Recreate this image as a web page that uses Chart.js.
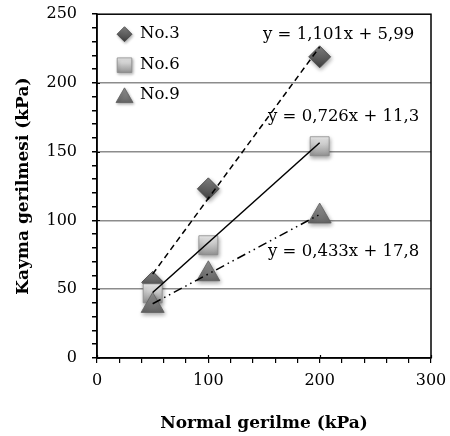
<!DOCTYPE html>
<html><head><meta charset="utf-8">
<script src="https://cdn.jsdelivr.net/npm/chart.js@4/dist/chart.umd.min.js"></script>
<style>html,body{margin:0;padding:0;background:#fff;}#wrap{width:450px;height:436px;}</style>
</head><body><div id="wrap"><canvas id="c" width="450" height="436"></canvas></div>
<script>
const seriesNames = ['No.3', 'No.6', 'No.9'];
const normalStress = [50, 100, 200];
const shear3 = [55, 123, 219];
const shear6 = [47, 82, 154];
const shear9 = [38, 61, 103];
const trendSlopes = [1.101, 0.726, 0.433];
const trendIntercepts = [5.99, 11.3, 17.8];
const equationLabels = ['y = 1,101x + 5,99', 'y = 0,726x + 11,3', 'y = 0,433x + 17,8'];
const xTickLabels = [0, 100, 200, 300];
const yTickLabels = [0, 50, 100, 150, 200, 250];
const xTitle = 'Normal gerilme (kPa)';
const yTitle = 'Kayma gerilmesi (kPa)';

const FONT = "'DejaVu Serif', serif";
const shearSeries = [shear3, shear6, shear9];
const markerStyles = [
  {style: 'rectRot', radius: 11, top: '#7c7c7c', bottom: '#444444', border: '#444444', lr: 7.5},
  {style: 'rect', radius: 13.4, top: '#f6f6f6', bottom: '#8e8e8e', border: '#8a8a8a', lr: 10.3},
  {style: 'triangle', radius: 13.3, top: '#8e8e8e', bottom: '#5c5c5c', border: '#5e5e5e', lr: 9.8}
];
const lineDashes = [[6, 4], [], [9, 4, 1.5, 4, 1.5, 4]];

function grad(ctx2d, y, r, m) {
  if (!isFinite(y)) return m.bottom;
  const g = ctx2d.createLinearGradient(0, y - r, 0, y + r);
  g.addColorStop(0, m.top);
  g.addColorStop(1, m.bottom);
  return g;
}

const datasets = [];
shearSeries.forEach((s, i) => {
  const xs = [Math.min(...normalStress), Math.max(...normalStress)];
  datasets.push({
    label: 'trend' + i,
    isTrend: true,
    type: 'line',
    order: 0,
    data: xs.map(x => ({x: x, y: trendSlopes[i] * x + trendIntercepts[i]})),
    borderColor: '#000',
    borderWidth: 1.5,
    borderDash: lineDashes[i],
    pointRadius: 0,
    fill: false,
    tension: 0
  });
});
shearSeries.forEach((s, i) => {
  const m = markerStyles[i];
  datasets.push({
    label: seriesNames[i],
    type: 'scatter',
    order: 3 - i,
    data: normalStress.map((x, j) => ({x: x, y: s[j]})),
    pointStyle: m.style,
    pointRadius: m.radius,
    pointHoverRadius: m.radius,
    pointBorderWidth: 0.8,
    pointBorderColor: m.border,
    pointBackgroundColor: (c) => {
      const ch = c.chart;
      if (!ch.scales || !ch.scales.y || !c.parsed) return m.bottom;
      const py = ch.scales.y.getPixelForValue(c.parsed.y);
      return grad(ch.ctx, py, m.radius * 0.8, m);
    },
    showLine: false
  });
});

const shadowPlugin = {
  id: 'shadow',
  beforeDatasetDraw(chart, args) {
    const ds = chart.data.datasets[args.index];
    if (ds.isTrend) return;
    const ctx = chart.ctx;
    ctx.save();
    ctx.shadowColor = 'rgba(0,0,0,0.35)';
    ctx.shadowBlur = 4;
    ctx.shadowOffsetX = 1;
    ctx.shadowOffsetY = 2;
  },
  afterDatasetDraw(chart, args) {
    const ds = chart.data.datasets[args.index];
    if (ds.isTrend) return;
    chart.ctx.restore();
  }
};

const framePlugin = {
  id: 'frame',
  beforeDatasetsDraw(chart) {
    const {ctx, chartArea: a, scales} = chart;
    ctx.save();
    ctx.strokeStyle = '#000';
    ctx.lineWidth = 1.5;
    ctx.strokeRect(a.left, a.top, a.right - a.left, a.bottom - a.top);
    // major ticks crossing into the plot area
    ctx.lineWidth = 1.2;
    ctx.beginPath();
    yTickLabels.forEach(v => {
      const py = Math.round(scales.y.getPixelForValue(v)) + 0.5;
      ctx.moveTo(a.left, py); ctx.lineTo(a.left + 3, py);
    });
    xTickLabels.forEach(v => {
      const px = Math.round(scales.x.getPixelForValue(v)) + 0.5;
      ctx.moveTo(px, a.bottom); ctx.lineTo(px, a.bottom - 3);
    });
    ctx.stroke();
    ctx.restore();
  }
};

const textPlugin = {
  id: 'texts',
  afterDatasetsDraw(chart) {
    const {ctx, chartArea: a} = chart;
    ctx.save();
    const eqPos = [[166, 21], [171, 103], [171, 238]];
    ctx.font = '16.5px ' + FONT;
    ctx.fillStyle = '#000';
    ctx.textBaseline = 'middle';
    ctx.textAlign = 'left';
    equationLabels.forEach((t, i) => {
      ctx.fillText(t, a.left + eqPos[i][0], a.top + eqPos[i][1]);
    });
    const legY = [20, 51, 81];
    seriesNames.forEach((n, i) => {
      const m = markerStyles[i];
      const cx = a.left + 27.5, cy = a.top + legY[i];
      const offs = m.style === 'triangle' ? m.lr * 0.25 : 0;
      ctx.save();
      ctx.shadowColor = 'rgba(0,0,0,0.3)';
      ctx.shadowBlur = 3;
      ctx.shadowOffsetX = 1;
      ctx.shadowOffsetY = 1.5;
      ctx.fillStyle = grad(ctx, cy + offs, m.lr * 0.8, m);
      ctx.strokeStyle = m.border;
      ctx.lineWidth = 0.8;
      Chart.helpers.drawPoint(ctx, {
        pointStyle: m.style, radius: m.lr, borderWidth: 0.8
      }, cx, cy + offs);
      ctx.restore();
      ctx.font = '16.5px ' + FONT;
      ctx.fillStyle = '#000';
      ctx.textBaseline = 'middle';
      ctx.textAlign = 'left';
      ctx.fillText(n, a.left + 43, cy);
    });
    ctx.restore();
  }
};

new Chart(document.getElementById('c'), {
  data: {datasets: datasets},
  options: {
    responsive: false,
    animation: false,
    devicePixelRatio: 1,
    layout: {padding: {top: 12, right: 19, left: 0, bottom: 0}},
    plugins: {legend: {display: false}, tooltip: {enabled: false}},
    scales: {
      x: {
        type: 'linear', min: 0, max: 300,
        afterFit: s => { s.height = 78; s.paddingLeft = 0; s.paddingRight = 0; },
        ticks: {
          stepSize: 20, autoSkip: false, maxRotation: 0, padding: 8,
          color: '#000', font: {family: FONT, size: 16},
          callback: v => xTickLabels.includes(v) ? String(v) : ''
        },
        grid: {drawOnChartArea: false, tickLength: 5, tickColor: '#000', lineWidth: 1.2},
        border: {color: '#000', width: 1.5},
        title: {display: true, text: xTitle, color: '#000',
          font: {family: FONT, size: 17, weight: 'bold'}, padding: {top: 0, bottom: 2}}
      },
      y: {
        type: 'linear', min: 0, max: 250,
        afterFit: s => { s.width = 97; s.paddingTop = 0; s.paddingBottom = 0; },
        ticks: {
          stepSize: 10, autoSkip: false, padding: 15,
          color: '#000', font: {family: FONT, size: 16},
          callback: v => yTickLabels.includes(v) ? String(v) : ''
        },
        grid: {
          tickLength: 5, tickColor: '#000', lineWidth: 1.5,
          color: c => (c.tick && c.tick.value % 50 === 0 && c.tick.value > 0 && c.tick.value < 250) ? '#8c8c8c' : 'rgba(0,0,0,0)'
        },
        border: {color: '#000', width: 1.5},
        title: {display: true, text: yTitle, color: '#000',
          font: {family: FONT, size: 17, weight: 'bold'}, padding: {top: 13, bottom: 0}}
      }
    }
  },
  plugins: [shadowPlugin, framePlugin, textPlugin]
});
</script></body></html>
